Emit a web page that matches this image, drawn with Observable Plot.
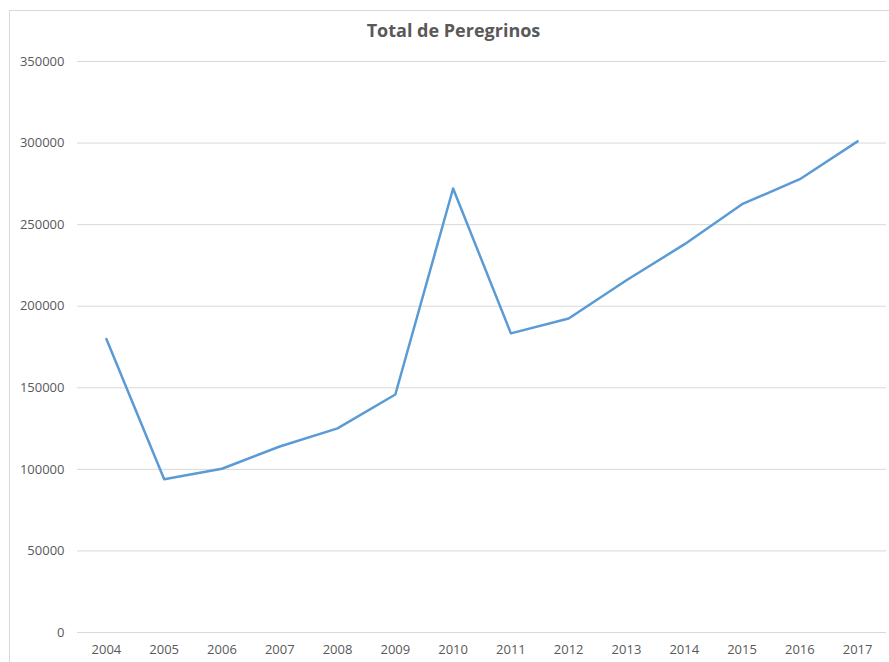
<!DOCTYPE html>
<html>
<head>
<meta charset="utf-8">
<script src="https://cdn.jsdelivr.net/npm/d3@7"></script>
<script src="https://cdn.jsdelivr.net/npm/@observablehq/plot@0.6"></script>
<style>
  html, body { margin: 0; padding: 0; background: #fff; overflow: hidden; }
  #frame { position: absolute; left: 9px; top: 10px; width: 1000px; height: 1000px; border: 1px solid #d9d9d9; box-sizing: border-box; }
  #title { position: absolute; left: 0; width: 907px; top: 18px; text-align: center; font-family: "Open Sans", sans-serif; font-weight: bold; font-size: 18px; color: #595959; }
  #chart { position: absolute; left: 0; top: 0; }
</style>
</head>
<body>
<div id="frame"></div>
<div id="title">Total de Peregrinos</div>
<div id="chart"></div>
<script>
const years = ["2004","2005","2006","2007","2008","2009","2010","2011","2012","2013","2014","2015","2016","2017"];
const pilgrims = [179944, 93924, 100377, 114026, 125141, 145877, 272135, 183366, 192488, 215880, 237886, 262516, 277854, 301036];
const yTicks = [0, 50000, 100000, 150000, 200000, 250000, 300000, 350000];

const data = years.map((y, i) => ({year: y, value: pilgrims[i]}));

const chart = Plot.plot({
  width: 889,
  height: 662,
  marginTop: 61,
  marginBottom: 30,
  marginLeft: 77,
  marginRight: 3,
  style: {fontFamily: "'Open Sans', sans-serif", fontSize: "13px", color: "#595959", background: "transparent"},
  x: {type: "point", domain: years, padding: 0.5, round: false, label: null, tickSize: 0, tickPadding: 12},
  y: {domain: [0, 350000], ticks: yTicks, label: null, tickSize: 0, tickPadding: 13, tickFormat: d => String(d)},
  marks: [
    Plot.ruleY(yTicks, {stroke: "#d9d9d9", strokeWidth: 1, strokeOpacity: 1}),
    Plot.line(data, {x: "year", y: "value", stroke: "#5b9bd5", strokeWidth: 2.5, strokeLinejoin: "round", strokeLinecap: "round"})
  ]
});
document.getElementById("chart").appendChild(chart);
</script>
</body>
</html>
